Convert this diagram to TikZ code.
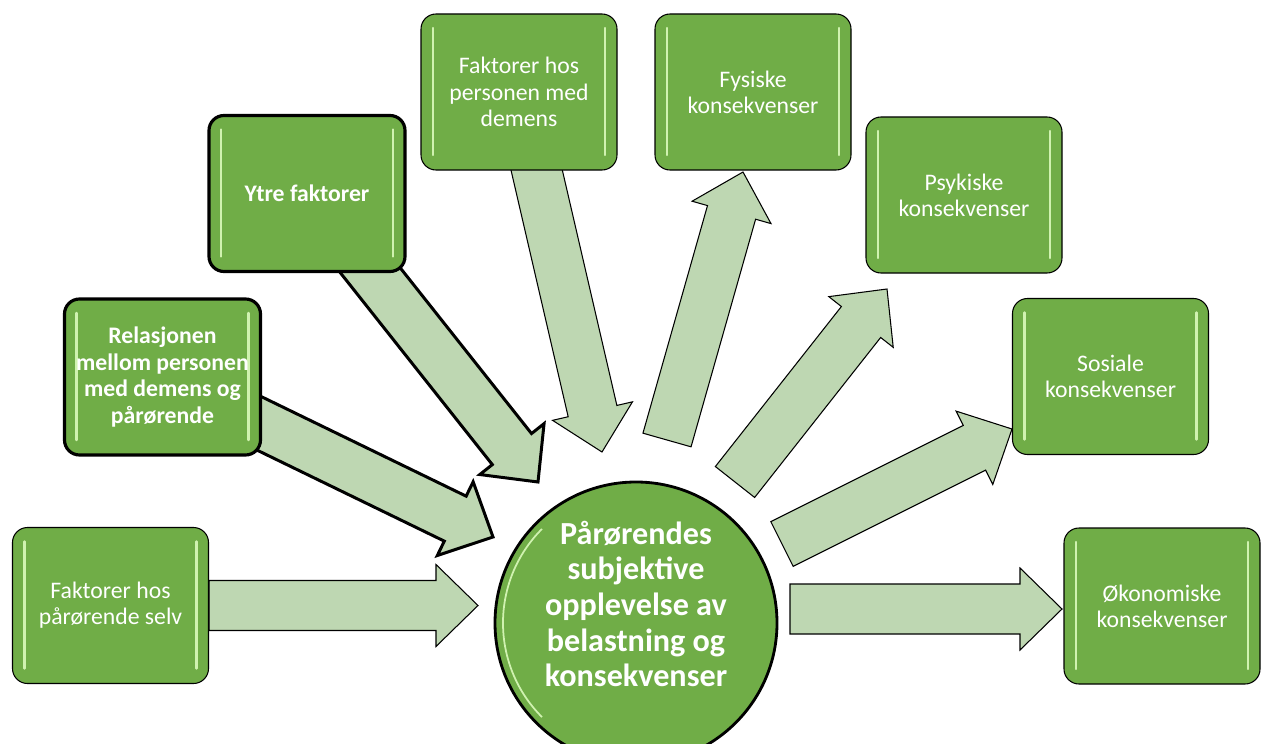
\documentclass[tikz,border=0pt]{standalone}
\usepackage{fontspec}
\setmainfont{Carlito}
\usetikzlibrary{calc,backgrounds}

\definecolor{boxgreen}{RGB}{112,173,71}
\definecolor{arrowgreen}{RGB}{190,215,178}
\definecolor{glowgreen}{RGB}{208,242,176}

% block arrow from tail #2 to tip #3
\newcommand{\blockarrow}[3][arrowbody]{%
    \coordinate (base) at ($(#3)!8.4mm!(#2)$);
    \draw[#1] ($(#2)!5mm!90:(#3)$) -- ($(base)!5mm!90:(#3)$) -- ($(base)!8.2mm!90:(#3)$) -- (#3)
        -- ($(base)!8.2mm!-90:(#3)$) -- ($(base)!5mm!-90:(#3)$) -- ($(#2)!5mm!-90:(#3)$) -- cycle;
}

\tikzset{
    box/.style={draw=black, line width=0.6pt, fill=boxgreen, rounded corners=3mm,
        minimum width=39.2mm, minimum height=31.2mm, align=center, text=white,
        font=\fontsize{13.5}{14.9}\selectfont,
        path picture={
            \draw[glowgreen, line width=1.4pt, line cap=round]
                ([xshift=2.4mm,yshift=-2.8mm]path picture bounding box.north west)
                -- ([xshift=2.4mm,yshift=3mm]path picture bounding box.south west);
            \draw[glowgreen, line width=1.4pt, line cap=round]
                ([xshift=-2.4mm,yshift=-2.8mm]path picture bounding box.north east)
                -- ([xshift=-2.4mm,yshift=3mm]path picture bounding box.south east);
        }},
    boldbox/.style={box, line width=1.8pt, font=\bfseries\fontsize{13.5}{15.1}\selectfont},
    hub/.style={circle, draw=black, line width=1.6pt, fill=boxgreen, minimum size=56.4mm, inner sep=0pt,
        path picture={
            \draw[glowgreen, line width=1pt] (path picture bounding box.center) ++(135:26.6mm)
                arc[start angle=135, end angle=225, radius=26.6mm];
        }},
    hubtext/.style={align=center, text=white, font=\bfseries\fontsize{18.3}{20.3}\selectfont},
    arrowbody/.style={draw=black, fill=arrowgreen, line width=0.6pt, line join=miter},
    boldarrow/.style={arrowbody, line width=1.7pt}
}

\begin{document}
\begin{tikzpicture}[x=0.2mm, y=-0.2mm]
    \useasboundingbox (0,0) rectangle (1262,743);
    \clip (0,0) rectangle (1262,743);

    \node[hub] (c) at (636,623) {};
    \node[hubtext] (ctext) at (636,604) {Pårørendes\\subjektive\\opplevelse av\\belastning og\\konsekvenser};

    \node[box] (b1) at (110.5,605.5) {Faktorer hos\\pårørende selv};
    \node[boldbox] (b2) at (162.5,377) {Relasjonen\\mellom personen\\med demens og\\pårørende};
    \node[boldbox] (b3) at (307,193.5) {Ytre faktorer};
    \node[box] (b4) at (519,92) {Faktorer hos\\personen med\\demens};
    \node[box] (b5) at (753,92) {Fysiske\\konsekvenser};
    \node[box] (b6) at (964,195) {Psykiske\\konsekvenser};
    \node[box] (b7) at (1110.5,376.5) {Sosiale\\konsekvenser};
    \node[box] (b8) at (1162,606) {Økonomiske\\konsekvenser};

    % arrow ends
    \coordinate (e1) at (478,605.5);
    \coordinate (s2) at (244,416);
    \coordinate (e2) at (493,537);
    \coordinate (s3) at (355,251);
    \coordinate (e3) at (538,482);
    \coordinate (s4) at (532,150);
    \coordinate (e4) at (602,452);
    \coordinate (s5) at (667,440);
    \coordinate (e5) at (743,172);
    \coordinate (s6) at (735,482);
    \coordinate (e6) at (887,289);
    \coordinate (s7) at (782,544);
    \coordinate (e7) at (1012,429);
    \coordinate (s8) at (790,609);
    \coordinate (e8) at (1062,609);

    \begin{scope}[on background layer]
        \blockarrow{b1.east}{e1}
        \blockarrow[boldarrow]{s2}{e2}
        \blockarrow[boldarrow]{s3}{e3}
        \blockarrow{s4}{e4}
        \blockarrow{s5}{e5}
        \blockarrow{s6}{e6}
        \blockarrow{s7}{e7}
        \blockarrow{s8}{e8}
    \end{scope}
\end{tikzpicture}
\end{document}
